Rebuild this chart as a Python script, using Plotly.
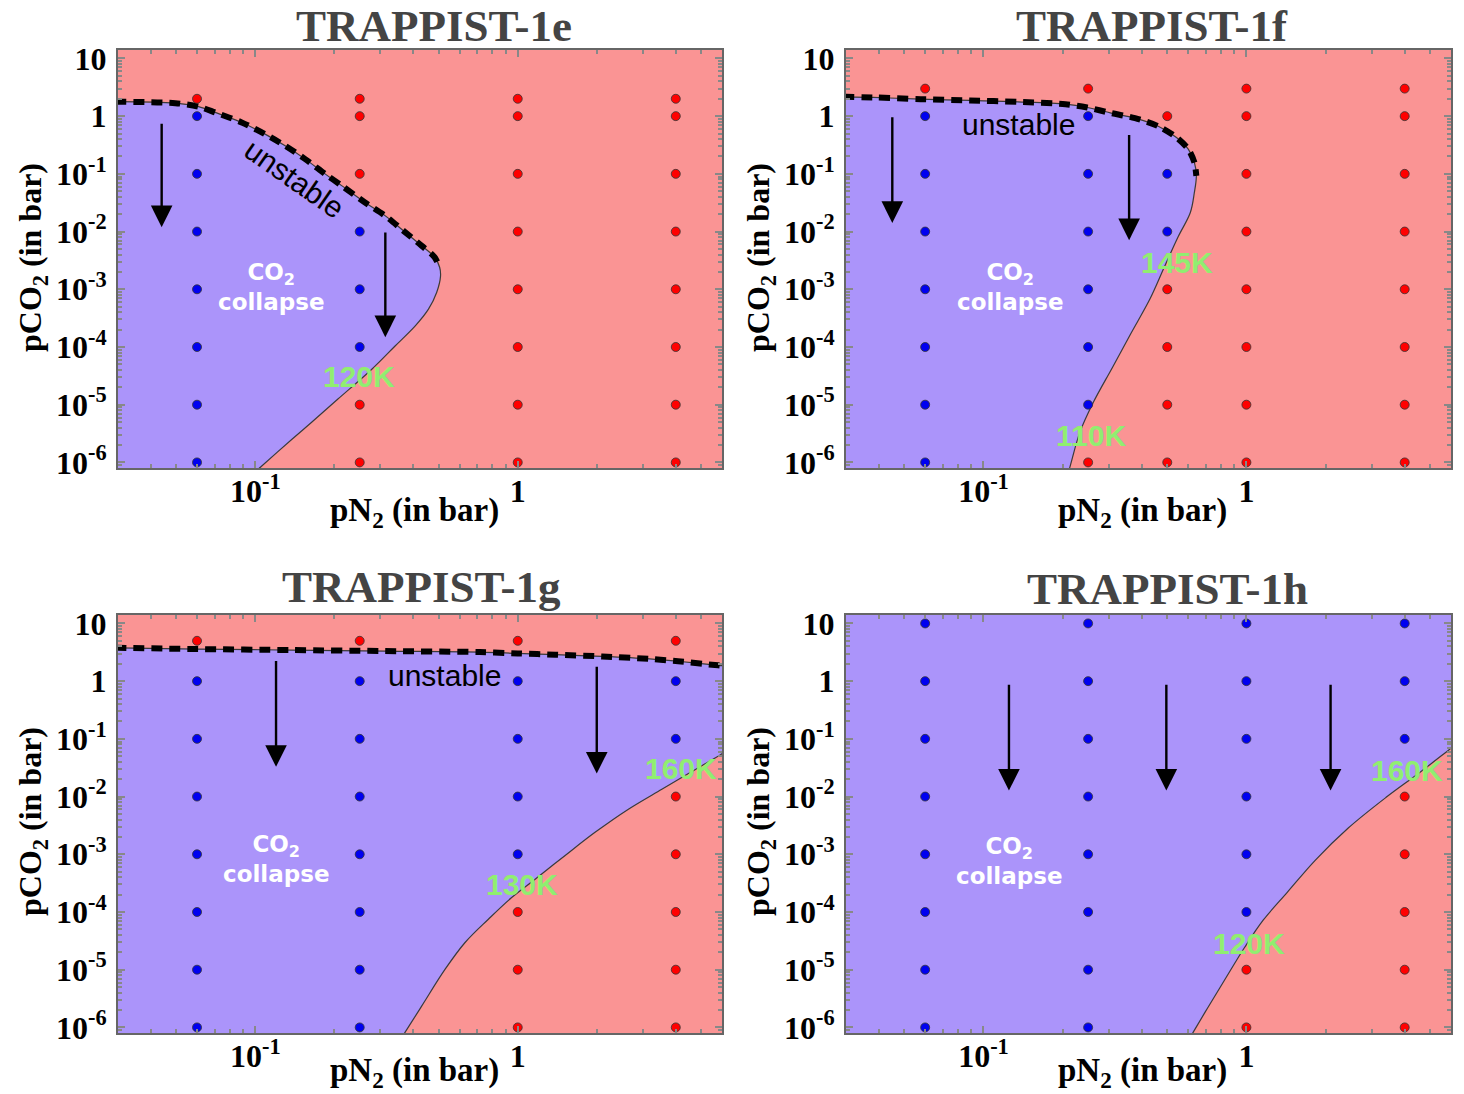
import numpy as np
import plotly.graph_objects as go

W, H = 1464, 1094

# ---------------- data ----------------
panel_names = ["TRAPPIST-1e", "TRAPPIST-1f", "TRAPPIST-1g", "TRAPPIST-1h"]

x_tick_vals = [0.1, 1]
x_tick_text = ["10<sup>-1</sup>", "1"]
y_tick_vals = [10, 1, 1e-1, 1e-2, 1e-3, 1e-4, 1e-5, 1e-6]
y_tick_text = ["10", "1", "10<sup>-1</sup>", "10<sup>-2</sup>", "10<sup>-3</sup>",
               "10<sup>-4</sup>", "10<sup>-5</sup>", "10<sup>-6</sup>"]
x_range_vals = [0.03, 6]
y_range_vals = [8e-7, 14]

# simulation grid (R = no collapse / red, B = CO2 collapse / blue, - = no run)
e_pn2 = [0.06, 0.25, 1, 4]
e_pco2 = [2, 1, 1e-1, 1e-2, 1e-3, 1e-4, 1e-5, 1e-6]
e_state = ["RBBBBBBB", "RRRBBBRR", "RRRRRRRR", "RRRRRRRR"]

f_pn2 = [0.06, 0.25, 0.5, 1, 4]
f_pco2 = [3, 1, 1e-1, 1e-2, 1e-3, 1e-4, 1e-5, 1e-6]
f_state = ["RBBBBBBB", "RBBBBBBR", "-RBBRRRR", "RRRRRRRR", "RRRRRRRR"]

g_pn2 = [0.06, 0.25, 1, 4]
g_pco2 = [5, 1, 1e-1, 1e-2, 1e-3, 1e-4, 1e-5, 1e-6]
g_state = ["RBBBBBBB", "RBBBBBBB", "RBBBBRRR", "RBBRRRRR"]

h_pn2 = [0.06, 0.25, 1, 4]
h_pco2 = [10, 1, 1e-1, 1e-2, 1e-3, 1e-4, 1e-5, 1e-6]
h_state = ["BBBBBBBB", "BBBBBBBB", "BBBBBBRR", "BBBRRRRR"]

# collapse-region boundaries
e_bound_x = [0.025, 0.0496, 0.0608, 0.0703, 0.0888, 0.109, 0.130, 0.155, 0.185, 0.214,
             0.262, 0.313, 0.367, 0.431, 0.482, 0.504, 0.508, 0.491, 0.457, 0.407,
             0.341, 0.278, 0.206, 0.164, 0.138, 0.1046, 0.093]
e_bound_y = [1.78, 1.68, 1.46, 1.16, 0.778, 0.488, 0.306, 0.180, 0.0989, 0.0619,
             0.0319, 0.0187, 0.0103, 0.00565, 0.0036, 0.00241, 0.00169, 0.00088,
             0.000452, 0.000232, 0.000104, 4.12e-5, 1.24e-5, 4.97e-6, 2.52e-6, 8.26e-7, 5.1e-7]
e_unstable_n = 16

f_bound_x = [0.025, 0.038, 0.0577, 0.0889, 0.135, 0.205, 0.248, 0.306, 0.377, 0.464,
             0.542, 0.601, 0.634, 0.645, 0.634, 0.612, 0.550, 0.486, 0.430, 0.364,
             0.309, 0.262, 0.232, 0.213, 0.206]
f_bound_y = [2.2, 2.11, 1.97, 1.87, 1.77, 1.61, 1.41, 1.13, 0.923, 0.663,
             0.428, 0.268, 0.158, 0.0923, 0.0476, 0.0214, 0.00813, 0.00236, 0.000684,
             0.000173, 4.38e-5, 1.11e-5, 3.22e-6, 8.2e-7, 5.1e-7]
f_unstable_n = 14

g_top_x = [0.025, 0.0598, 0.137, 0.313, 0.717, 1.0, 1.39, 2.10, 3.18, 4.08, 5.80, 7.0]
g_top_y = [3.83, 3.60, 3.46, 3.32, 3.19, 3.02, 2.87, 2.68, 2.43, 2.21, 1.88, 1.75]
g_low_x = [0.348, 0.372, 0.431, 0.529, 0.630, 0.773, 0.948, 1.165, 1.516, 1.97, 2.64,
           3.54, 4.47, 5.96, 7.0]
g_low_y = [5e-7, 8.2e-7, 2.36e-6, 1.02e-5, 2.96e-5, 7.5e-5, 1.78e-4, 3.70e-4, 9.55e-4,
           2.40e-3, 6.05e-3, 0.0134, 0.0251, 0.0543, 0.088]

h_bound_x = [0.589, 0.627, 0.710, 0.836, 0.985, 1.16, 1.43, 1.83, 2.44, 3.39, 4.51, 5.90, 7.0]
h_bound_y = [5e-7, 8.2e-7, 2.13e-6, 7.24e-6, 2.45e-5, 7.27e-5, 2.19e-4, 7.94e-4, 2.85e-3,
             9.6e-3, 0.0251, 0.0647, 0.118]

# arrows: (pN2, pCO2 start, pCO2 end)
e_arrows = [(0.044, 0.787, 0.0119), (0.313, 0.0102, 1.48e-4)]
f_arrows = [(0.045, 1.02, 0.0141), (0.358, 0.501, 0.0071)]
g_arrows = [(0.120, 2.37, 0.0328), (2.0, 1.88, 0.0251)]
h_arrows = [(0.125, 0.916, 0.0127), (0.496, 0.916, 0.0127), (2.09, 0.916, 0.0127)]

# labels: (text, pN2, pCO2)
e_temps = [("120K", 0.249, 3.12e-5)]
f_temps = [("145K", 0.544, 2.95e-3), ("110K", 0.256, 2.96e-6)]
g_temps = [("160K", 4.17, 0.031), ("130K", 1.04, 3.03e-4)]
h_temps = [("160K", 4.09, 0.0287), ("120K", 1.02, 2.88e-5)]

collapse_pos = [(0.115, 1.09e-3), (0.126, 1.09e-3), (0.120, 8.2e-4), (0.125, 7.6e-4)]
unstable_pos = [(0.141, 0.0843, 35), (0.136, 0.727, 0), (0.526, 1.27, 0)]

# ---------------- styling ----------------
RED_BG = "#fa9494"
PURPLE = "#ab94fa"
DOT_RED = "#ff0000"
DOT_BLUE = "#0000f0"
GREEN = "#90ee70"
SERIF = "Liberation Serif, Times New Roman, serif"
SANS = "Liberation Sans, Arial, sans-serif"

dom_x = [[118 / W, 722 / W], [846 / W, 1451 / W], [118 / W, 722 / W], [846 / W, 1451 / W]]
dom_y = [[1 - 468 / H, 1 - 50 / H], [1 - 468 / H, 1 - 50 / H],
         [1 - 1033 / H, 1 - 615 / H], [1 - 1033 / H, 1 - 615 / H]]


def lg(v):
    return float(np.log10(v))


fig = go.Figure()
annotations = []
shapes = []


def axnames(i):
    s = "" if i == 0 else str(i + 1)
    return "x" + s, "y" + s


def add_dots(i, pn2, pco2, state):
    xa, ya = axnames(i)
    xs, ys, cs = [], [], []
    for a, p in enumerate(pn2):
        for b, c in enumerate(pco2):
            s = state[a][b]
            if s == "-":
                continue
            xs.append(p)
            ys.append(c)
            cs.append(DOT_RED if s == "R" else DOT_BLUE)
    fig.add_trace(go.Scatter(x=xs, y=ys, mode="markers", xaxis=xa, yaxis=ya,
                             marker=dict(size=9, color=cs, line=dict(color="#333", width=0.8)),
                             hoverinfo="skip", showlegend=False))


def add_fill(i, px, py, color):
    xa, ya = axnames(i)
    fig.add_trace(go.Scatter(x=px, y=py, mode="lines", fill="toself", fillcolor=color,
                             line=dict(width=0), xaxis=xa, yaxis=ya,
                             hoverinfo="skip", showlegend=False))


def add_line(i, bx, by, dashed=False):
    xa, ya = axnames(i)
    if dashed:
        line = dict(color="black", width=6, dash="11px,7px", shape="spline", smoothing=0.8)
    else:
        line = dict(color="#3a3a3a", width=1.2, shape="spline", smoothing=1.0)
    fig.add_trace(go.Scatter(x=bx, y=by, mode="lines", line=line, xaxis=xa, yaxis=ya,
                             hoverinfo="skip", showlegend=False))


def add_bg(i, color):
    xa, ya = axnames(i)
    shapes.append(dict(type="rect", xref=xa + " domain", yref=ya + " domain",
                       x0=0, x1=1, y0=0, y1=1, fillcolor=color, line_width=0, layer="below"))


def add_arrows(i, arrows):
    xa, ya = axnames(i)
    for x, y0, y1 in arrows:
        annotations.append(dict(xref=xa, yref=ya, axref=xa, ayref=ya,
                                x=lg(x), y=lg(y1), ax=lg(x), ay=lg(y0), text="",
                                showarrow=True, arrowhead=2, arrowsize=1.8,
                                arrowwidth=2.4, arrowcolor="black"))


def add_temps(i, temps):
    xa, ya = axnames(i)
    for t, x, y in temps:
        annotations.append(dict(xref=xa, yref=ya, x=lg(x), y=lg(y), text=t, showarrow=False,
                                font=dict(family=SANS, size=30, color=GREEN, weight="bold")))


# panel e
add_bg(0, RED_BG)
add_fill(0, e_bound_x + [0.02, 0.02], e_bound_y + [5e-7, e_bound_y[0]], PURPLE)
add_line(0, e_bound_x, e_bound_y)
add_line(0, e_bound_x[:e_unstable_n], e_bound_y[:e_unstable_n], dashed=True)
add_dots(0, e_pn2, e_pco2, e_state)
add_arrows(0, e_arrows)
add_temps(0, e_temps)

# panel f
add_bg(1, RED_BG)
add_fill(1, f_bound_x + [0.02, 0.02], f_bound_y + [5e-7, f_bound_y[0]], PURPLE)
add_line(1, f_bound_x, f_bound_y)
add_line(1, f_bound_x[:f_unstable_n], f_bound_y[:f_unstable_n], dashed=True)
add_dots(1, f_pn2, f_pco2, f_state)
add_arrows(1, f_arrows)
add_temps(1, f_temps)

# panel g
add_bg(2, RED_BG)
add_fill(2, g_top_x + g_low_x[::-1] + [0.02, 0.02],
         g_top_y + g_low_y[::-1] + [5e-7, g_top_y[0]], PURPLE)
add_line(2, g_top_x, g_top_y)
add_line(2, g_top_x, g_top_y, dashed=True)
add_line(2, g_low_x, g_low_y)
add_dots(2, g_pn2, g_pco2, g_state)
add_arrows(2, g_arrows)
add_temps(2, g_temps)

# panel h
add_bg(3, PURPLE)
add_fill(3, h_bound_x + [8.0, 8.0], h_bound_y + [h_bound_y[-1], 5e-7], RED_BG)
add_line(3, h_bound_x, h_bound_y)
add_dots(3, h_pn2, h_pco2, h_state)
add_arrows(3, h_arrows)
add_temps(3, h_temps)

# text labels inside panels
for i, (x, y) in enumerate(collapse_pos):
    xa, ya = axnames(i)
    annotations.append(dict(xref=xa, yref=ya, x=lg(x), y=lg(y),
                            text="CO<sub>2</sub><br>collapse", showarrow=False,
                            font=dict(family="DejaVu Sans", size=23, color="white", weight="bold")))
for i, (x, y, ang) in enumerate(unstable_pos):
    xa, ya = axnames(i)
    annotations.append(dict(xref=xa, yref=ya, x=lg(x), y=lg(y), text="unstable",
                            textangle=ang, showarrow=False,
                            font=dict(family=SANS, size=30, color="black")))

# titles (top row anchored to the top edge so the text box stays inside the page)
title_pos = [(434, 0, "top"), (1152, 0, "top"), (421, 587, "middle"), (1167, 589, "middle")]
for (cx, cy, anc), name in zip(title_pos, panel_names):
    annotations.append(dict(xref="paper", yref="paper", x=cx / W, y=1 - cy / H,
                            xanchor="center", yanchor=anc, text=name, showarrow=False,
                            borderpad=0,
                            font=dict(family=SERIF, size=45, color="#444", weight="bold")))
for cx, cy in [(32, 258), (760, 258), (32, 822), (760, 822)]:
    annotations.append(dict(xref="paper", yref="paper", x=cx / W, y=1 - cy / H,
                            xanchor="center", yanchor="middle", textangle=-90,
                            text="pCO<sub>2</sub> (in bar)", showarrow=False,
                            font=dict(family=SERIF, size=32, color="black", weight="bold")))
for cx, cy, anc in [(414, 513, "middle"), (1142, 513, "middle"),
                    (414, 1094, "bottom"), (1142, 1094, "bottom")]:
    annotations.append(dict(xref="paper", yref="paper", x=cx / W, y=1 - cy / H,
                            xanchor="center", yanchor=anc, borderpad=0,
                            text="pN<sub>2</sub> (in bar)", showarrow=False,
                            font=dict(family=SERIF, size=33, color="black", weight="bold")))

layout = dict(width=W, height=H, autosize=False, template="none",
              margin=dict(l=0, r=0, t=0, b=0, pad=0, autoexpand=False),
              paper_bgcolor="white", plot_bgcolor="white", showlegend=False,
              annotations=annotations, shapes=shapes)

tickfont = dict(family=SERIF, size=32, color="black", weight="bold")
for i in range(4):
    s = "" if i == 0 else str(i + 1)
    layout["xaxis" + s] = dict(type="log", range=[lg(v) for v in x_range_vals], domain=dom_x[i],
                               anchor="y" + s, tickmode="array", tickvals=x_tick_vals,
                               ticktext=x_tick_text, ticks="inside", ticklen=7, tickwidth=1.5,
                               tickcolor="#888", showline=True, linecolor="#666", linewidth=2,
                               mirror="ticks", showgrid=False, zeroline=False, tickfont=tickfont,
                               ticklabelstandoff=-6, automargin=False,
                               minor=dict(ticks="inside", ticklen=4, tickcolor="#888",
                                          dtick="D1", showgrid=False))
    layout["yaxis" + s] = dict(type="log", range=[lg(v) for v in y_range_vals], domain=dom_y[i],
                               anchor="x" + s, tickmode="array", tickvals=y_tick_vals,
                               ticktext=y_tick_text, ticks="inside", ticklen=7, tickwidth=1.5,
                               tickcolor="#888", showline=True, linecolor="#666", linewidth=2,
                               mirror="ticks", showgrid=False, zeroline=False, tickfont=tickfont,
                               ticklabelstandoff=3, automargin=False,
                               minor=dict(ticks="inside", ticklen=4, tickcolor="#888",
                                          dtick="D1", showgrid=False))

fig.update_layout(**layout)
post = ("document.documentElement.style.margin='0';"
        "document.body.style.margin='0';"
        "document.documentElement.style.overflow='hidden';"
        "document.body.style.overflow='hidden';"
        "var d=document.getElementsByClassName('plotly-graph-div')[0];"
        "d.style.position='absolute';d.style.top='0px';d.style.left='0px';")
fig.write_html("out.html", config={"displayModeBar": False, "responsive": False},
               post_script=post)
